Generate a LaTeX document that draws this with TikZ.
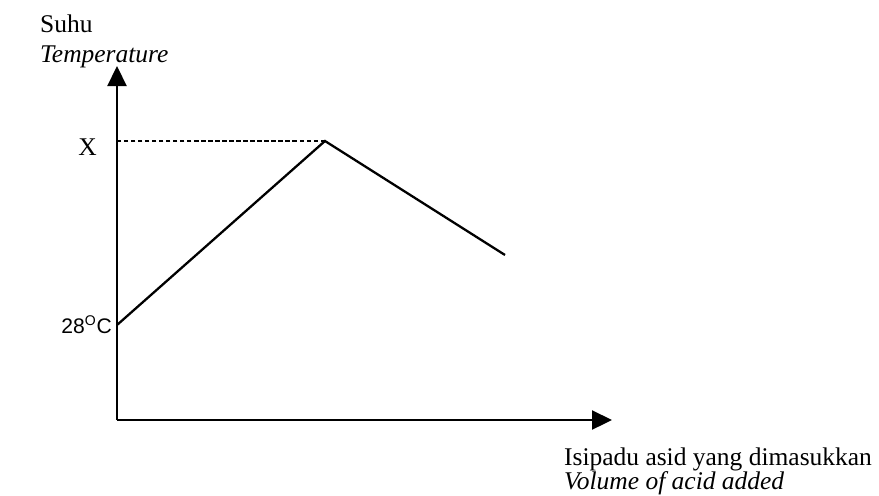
\documentclass[tikz,border=0pt]{standalone}
\usepackage{fontspec}
\setmainfont{Liberation Serif}
\newfontfamily\labelsans{Liberation Sans}
\usetikzlibrary{arrows.meta}

\begin{document}
\begin{tikzpicture}[
    x=0.02cm, y=-0.02cm,
    >={Triangle[length=0.4cm, width=0.38cm]},
    line width=1.3pt,
    font=\fontsize{14.5}{17}\selectfont,
    axis/.style={->},
    graphline/.style={line width=1.3pt},
    guide/.style={line width=1.1pt, dash pattern=on 2.5pt off 1.5pt},
    title/.style={anchor=base west, inner sep=0pt}
]
    \useasboundingbox (0,0) rectangle (879,495);

    % Key points of the curve
    \coordinate (origin) at (117,420);
    \coordinate (ytip) at (117,66);
    \coordinate (xtip) at (612,420);
    \coordinate (start) at (117,325);
    \coordinate (peak) at (325,141);
    \coordinate (finish) at (505,255);

    % Axes
    \draw[axis] (origin) -- (ytip);
    \draw[axis] (origin) -- (xtip);

    % Axis titles
    \node[title] (suhu) at (39,32) {Suhu};
    \node[title] (temp) at (39,62) {\textit{Temperature}};
    \node[title] (isipadu) at (563,465) {Isipadu asid yang dimasukkan};
    \node[title] (volume) at (563,489) {\textit{Volume of acid added}};

    % Temperature curve
    \draw[graphline] (start) -- (peak) -- (finish);

    % Maximum temperature
    \node[anchor=base east, inner sep=0pt] (xlabel) at (98,155) {X};
    \draw[guide] (peak) -- (peak -| origin);

    % Initial temperature
    \node[anchor=east, inner sep=0pt, font=\labelsans\fontsize{12}{14}\selectfont] (tlabel) at (113,325) {28\textsuperscript{O}C};

\end{tikzpicture}
\end{document}
